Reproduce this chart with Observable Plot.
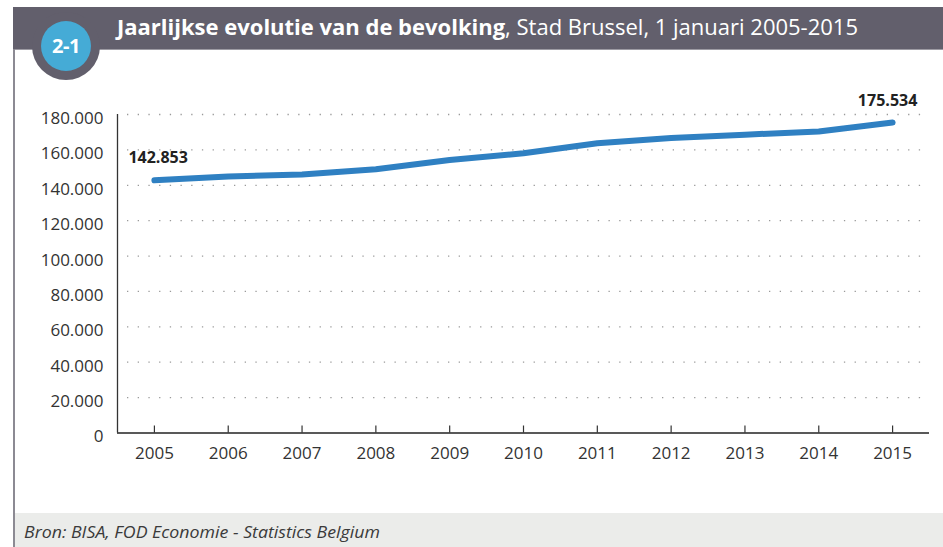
<!DOCTYPE html>
<html>
<head>
<meta charset="utf-8">
<script src="https://cdn.jsdelivr.net/npm/d3@7"></script>
<script src="https://cdn.jsdelivr.net/npm/@observablehq/plot@0.6"></script>
<style>
  html, body { margin: 0; padding: 0; background: #fff; }
  #wrap { position: relative; width: 943px; height: 547px; overflow: hidden; font-family: "Open Sans", sans-serif; }
  #bar { position: absolute; left: 13px; top: 7px; width: 930px; height: 42px; background: #625f6c; border-bottom: 1px solid #9d9ba3; }
  #leftline { position: absolute; left: 13px; top: 49px; width: 2px; height: 498px; background: #8c8a93; }
  #ring { position: absolute; left: 32px; top: 12px; width: 68px; height: 68px; border-radius: 50%; background: #625f6c; }
  #badge { position: absolute; left: 41px; top: 21px; width: 50px; height: 50px; border-radius: 50%; background: #45abd6; color: #fff; font-weight: 700; font-size: 20px; line-height: 50px; text-align: center; letter-spacing: -0.5px; }
  #title { position: absolute; left: 117px; top: 12px; color: #fff; font-size: 21px; line-height: 30px; white-space: nowrap; transform-origin: 0 50%; }
  #title b { font-weight: 700; }
  #footer { position: absolute; left: 15px; top: 513px; width: 928px; height: 34px; background: #ebecea; }
  #source { position: absolute; left: 24px; top: 521px; font-style: italic; font-size: 15.5px; color: #3a3a3a; white-space: nowrap; transform-origin: 0 50%; }
  #chart { position: absolute; left: 0; top: 60px; }
</style>
</head>
<body>
<div id="wrap">
  <div id="bar"></div>
  <div id="leftline"></div>
  <div id="footer"></div>
  <div id="ring"></div>
  <div id="badge">2-1</div>
  <div id="title"><b>Jaarlijkse evolutie van de bevolking</b>, Stad Brussel, 1 januari 2005-2015</div>
  <div id="source">Bron: BISA, FOD Economie - Statistics Belgium</div>
  <div id="chart"></div>
</div>
<script>
const years = [2005, 2006, 2007, 2008, 2009, 2010, 2011, 2012, 2013, 2014, 2015];
const population = [142853, 145000, 146100, 149100, 154300, 158100, 163700, 166700, 168600, 170400, 175534];
const yTicks = [0, 20000, 40000, 60000, 80000, 100000, 120000, 140000, 160000, 180000];
const labelledYears = [2005, 2015];

const data = years.map((year, i) => ({year, pop: population[i]}));
const fmt = d => d === 0 ? "0" : d3.format(",")(d).replace(/,/g, ".");
const first = data.filter(d => d.year === labelledYears[0]);
const last = data.filter(d => d.year === labelledYears[1]);

const chart = Plot.plot({
  width: 943,
  height: 420,
  marginTop: 54,
  marginBottom: 47.5,
  marginLeft: 117,
  marginRight: 14,
  style: {fontFamily: "'Open Sans', sans-serif", color: "#333", background: "transparent"},
  x: {type: "linear", domain: [2004.5, 2015.5], axis: null},
  y: {domain: [0, 180000], axis: null},
  marks: [
    Plot.ruleY(yTicks.filter(d => d > 0), {stroke: "#9a9a9a", strokeWidth: 1.3, strokeDasharray: "1.3,9.4", insetLeft: 10, insetRight: 4}),
    Plot.axisY(yTicks, {tickSize: 0, tickPadding: 14, tickFormat: fmt, fontSize: 17, fill: "#333", dy: 4, label: null}),
    Plot.axisX(years, {tickSize: 0, tickPadding: 14, tickFormat: d => String(d), fontSize: 17, fill: "#333", label: null}),
    Plot.ruleX([2004.5], {y1: 0, y2: 180000, stroke: "#333", strokeWidth: 1.3}),
    Plot.ruleX(years, {x: d => d, y1: 0, y2: 0, insetTop: -7, stroke: "#333", strokeWidth: 1.2}),
    Plot.ruleY([0], {stroke: "#222", strokeWidth: 1.5}),
    Plot.line(data, {x: "year", y: "pop", stroke: "#2f80c2", strokeWidth: 6, strokeLinecap: "round", strokeLinejoin: "round"}),
    Plot.text(first, {x: "year", y: "pop", text: d => fmt(d.pop), textAnchor: "start", dx: -26, dy: -22, fontSize: 16, fontWeight: "bold", fill: "#222"}),
    Plot.text(last, {x: "year", y: "pop", text: d => fmt(d.pop), textAnchor: "middle", dx: -5, dy: -22, fontSize: 16, fontWeight: "bold", fill: "#222"})
  ]
});
document.getElementById("chart").appendChild(chart);

function fit(id, w) {
  const el = document.getElementById(id);
  const r = el.getBoundingClientRect().width;
  if (r > 0) el.style.transform = `scaleX(${w / r})`;
}
fit("title", 741);
fit("source", 356);
</script>
</body>
</html>
